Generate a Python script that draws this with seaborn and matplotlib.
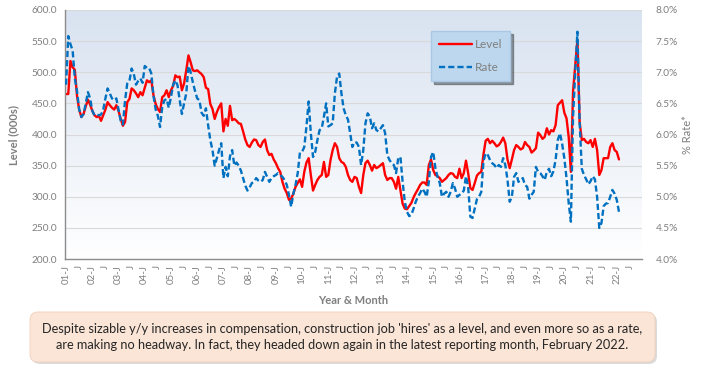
import numpy as np
import pandas as pd
import seaborn as sns
import matplotlib.pyplot as plt
from matplotlib.patches import FancyBboxPatch
from matplotlib.lines import Line2D
from matplotlib.colors import LinearSegmentedColormap

# Construction job hires, monthly Jan 2001 - Feb 2022
level = [
    465, 465, 518, 508, 504, 462, 440, 428, 433, 445, 456, 448,   # 2001
    438, 431, 428, 430, 422, 431, 440, 452, 447, 443, 440, 447,   # 2002
    438, 425, 414, 420, 452, 457, 474, 471, 466, 460, 468, 463,   # 2003
    475, 487, 484, 487, 463, 449, 441, 436, 460, 463, 471, 460,   # 2004
    471, 478, 495, 492, 493, 471, 482, 503, 527, 516, 503, 502,   # 2005
    503, 500, 497, 492, 475, 473, 449, 441, 425, 436, 444, 450,   # 2006
    405, 425, 414, 446, 423, 425, 422, 418, 417, 405, 392, 383,   # 2007
    380, 387, 392, 391, 383, 380, 388, 392, 375, 367, 369, 360,   # 2008
    354, 346, 340, 324, 313, 306, 295, 297, 305, 316, 322, 328,   # 2009
    316, 340, 355, 362, 335, 310, 319, 327, 332, 335, 356, 332,   # 2010
    335, 359, 375, 386, 380, 362, 356, 354, 348, 335, 327, 324,   # 2011
    332, 330, 316, 306, 335, 354, 358, 351, 342, 351, 346, 348,   # 2012
    351, 354, 335, 327, 330, 330, 324, 313, 332, 311, 289, 281,   # 2013
    280, 285, 290, 299, 306, 312, 319, 323, 323, 319, 351, 360,   # 2014
    343, 335, 333, 330, 324, 327, 330, 335, 338, 337, 332, 330,   # 2015
    345, 330, 338, 358, 338, 314, 311, 322, 334, 338, 340, 368,   # 2016
    390, 393, 386, 390, 386, 381, 383, 388, 395, 386, 360, 346,   # 2017
    360, 375, 383, 380, 376, 378, 388, 383, 380, 371, 374, 378,   # 2018
    403, 399, 393, 396, 410, 400, 407, 405, 415, 447, 451, 455,   # 2019
    435, 426, 396, 340, 470, 510, 552, 420, 391, 393, 388, 386,   # 2020
    391, 380, 393, 375, 335, 343, 362, 362, 362, 380, 386, 375,   # 2021
    372, 360,                                                     # 2022
]

rate = [
    6.80, 7.58, 7.45, 7.35, 6.90, 6.70, 6.40, 6.28, 6.33, 6.50, 6.68, 6.58,
    6.38, 6.31, 6.32, 6.31, 6.32, 6.40, 6.58, 6.74, 6.66, 6.58, 6.55, 6.58,
    6.40, 6.22, 6.16, 6.55, 6.82, 6.86, 7.06, 6.97, 6.80, 6.86, 6.90, 6.83,
    7.10, 7.07, 7.07, 6.98, 6.62, 6.40, 6.30, 6.12, 6.44, 6.55, 6.57, 6.43,
    6.60, 6.80, 6.87, 6.79, 6.55, 6.33, 6.50, 6.66, 7.10, 7.00, 6.84, 6.70,
    6.58, 6.55, 6.35, 6.30, 6.42, 6.15, 5.91, 5.75, 5.50, 5.62, 5.75, 5.86,
    5.30, 5.48, 5.33, 5.65, 5.75, 5.50, 5.55, 5.50, 5.42, 5.30, 5.18, 5.10,
    5.15, 5.22, 5.24, 5.30, 5.26, 5.24, 5.27, 5.40, 5.32, 5.24, 5.30, 5.33,
    5.35, 5.38, 5.35, 5.32, 5.27, 5.19, 5.03, 4.84, 5.05, 5.19, 5.38, 5.71,
    5.72, 5.80, 6.13, 6.53, 6.02, 5.64, 5.72, 5.91, 6.07, 6.10, 6.29, 6.50,
    6.13, 6.15, 6.18, 6.66, 6.93, 6.98, 6.66, 6.42, 6.31, 6.24, 6.02, 5.80,
    5.88, 5.87, 5.80, 5.51, 5.75, 6.18, 6.34, 6.29, 6.10, 6.18, 6.07, 6.05,
    6.10, 6.15, 6.02, 5.67, 5.59, 5.54, 5.51, 5.38, 5.62, 5.64, 5.24, 4.92,
    4.76, 4.69, 4.71, 4.81, 4.92, 5.00, 5.06, 5.13, 5.08, 5.00, 5.24, 5.64,
    5.72, 5.46, 5.32, 5.22, 5.00, 5.05, 5.08, 5.00, 5.08, 5.22, 5.13, 5.00,
    5.03, 5.05, 5.10, 5.33, 5.15, 4.68, 4.66, 4.81, 4.96, 5.00, 5.08, 5.57,
    5.70, 5.67, 5.59, 5.54, 5.51, 5.46, 5.51, 5.48, 5.62, 5.51, 5.27, 4.92,
    5.00, 5.32, 5.38, 5.24, 5.27, 5.30, 5.19, 5.16, 4.97, 5.03, 5.08, 5.48,
    5.40, 5.38, 5.33, 5.27, 5.40, 5.45, 5.33, 5.41, 5.59, 5.91, 6.02, 5.85,
    5.62, 5.30, 4.90, 4.60, 6.30, 7.00, 7.65, 6.20, 5.45, 5.35, 5.28, 5.20,
    5.25, 5.33, 5.28, 5.00, 4.50, 4.58, 4.85, 4.89, 4.90, 5.00, 5.11, 5.05,
    4.95, 4.76,
]

first_year = 2001
n_axis_months = 264  # axis runs Jan 2001 - Dec 2022
caption = ("Despite sizable y/y increases in compensation, construction job 'hires' as a level, and even more so as a rate,\n"
           "are making no headway. In fact, they headed down again in the latest reporting month, February 2022.")

df = pd.DataFrame({'month': np.arange(len(level)), 'Level': level, 'Rate': rate})

sns.set_theme(style='white')
plt.rcParams['font.family'] = ['Lato', 'DejaVu Sans']
grey = '#7f7f7f'

fig = plt.figure(figsize=(7.01, 3.68), dpi=100)
rect = [0.0927, 0.296, 0.823, 0.677]

# gradient plot-area background
bg = fig.add_axes(rect, zorder=0)
cmap = LinearSegmentedColormap.from_list('bg', ['#ffffff', '#d8e2f0'])
bg.imshow(np.linspace(0, 1, 256).reshape(-1, 1), aspect='auto', cmap=cmap,
          origin='lower', extent=[0, 1, 0, 1])
bg.axis('off')

ax = fig.add_axes(rect, zorder=1)
ax.patch.set_alpha(0)
ax2 = ax.twinx()

sns.lineplot(data=df, x='month', y='Level', ax=ax, color='#ff0000', linewidth=1.7)
sns.lineplot(data=df, x='month', y='Rate', ax=ax2, color='#0070c0', linewidth=1.7,
             linestyle=(0, (2.6, 1.3)))

ax.set_xlim(-0.5, n_axis_months - 0.5)
ax.set_ylim(200, 600)
ax2.set_ylim(4, 8)

ticks = np.arange(0, n_axis_months - 5, 6)
labels = [f"{(first_year + t // 12) % 100:02d}-J" if t % 12 == 0 else "J" for t in ticks]
ax.set_xticks(ticks)
ax.set_xticklabels(labels, rotation=90, fontsize=7, color=grey)

lt = np.arange(200, 601, 50)
ax.set_yticks(lt)
ax.set_yticklabels([f"{v:.1f}" for v in lt], fontsize=7.3, color=grey)
rt = np.arange(4, 8.01, 0.5)
ax2.set_yticks(rt)
ax2.set_yticklabels([f"{v:.1f}%" for v in rt], fontsize=7.3, color=grey)

ax.tick_params(axis='x', length=0, pad=4)
ax.tick_params(axis='y', length=0, pad=5.5)
ax2.tick_params(axis='y', length=0, pad=10)

ax.grid(axis='y', color='#d9d9d9', linewidth=0.8)
ax.grid(axis='x', visible=False)
for s in ['top', 'right']:
    ax.spines[s].set_visible(False)
for s in ['left', 'bottom']:
    ax.spines[s].set_color('#8c8c8c')
    ax.spines[s].set_linewidth(1.0)
for s in ax2.spines.values():
    s.set_visible(False)

ax.set_xlabel('Year & Month', fontsize=8, fontweight='bold', color=grey, labelpad=8)
ax.set_ylabel('Level (000s)', fontsize=8, fontweight='bold', color=grey, labelpad=9)
ax2.set_ylabel('% Rate*', fontsize=8, color=grey, rotation=90, labelpad=3)

handles = [Line2D([], [], color='#ff0000', linewidth=1.7),
           Line2D([], [], color='#0070c0', linewidth=1.7, linestyle=(0, (2.6, 1.3)))]
leg = ax2.legend(handles, ['Level', 'Rate'], loc='upper left', bbox_to_anchor=(0.634, 0.915),
                 fontsize=8.5, frameon=True, fancybox=False, shadow=True, handlelength=2.8,
                 handletextpad=0.2, labelspacing=1.0, borderpad=0.7, borderaxespad=0)
leg.get_frame().set_facecolor('#bdd7ee')
leg.get_frame().set_edgecolor('#a9c8e6')
for t in leg.get_texts():
    t.set_color(grey)

# caption box with soft drop shadow
tr = fig.dpi_scale_trans
fig.add_artist(FancyBboxPatch((0.32, 0.04), 6.25, 0.50, boxstyle='round,pad=0,rounding_size=0.08',
                              transform=tr, facecolor='#b0b0b0', edgecolor='none', alpha=0.45))
fig.add_artist(FancyBboxPatch((0.30, 0.06), 6.25, 0.50, boxstyle='round,pad=0,rounding_size=0.08',
                              transform=tr, facecolor='#fbe5d6', edgecolor='#f2d0bb', linewidth=0.6))
fig.text(0.4886, 0.0842, caption, ha='center', va='center', fontsize=9.2,
         color='#262626', linespacing=1.45)

fig.savefig('out.png', dpi=100)
